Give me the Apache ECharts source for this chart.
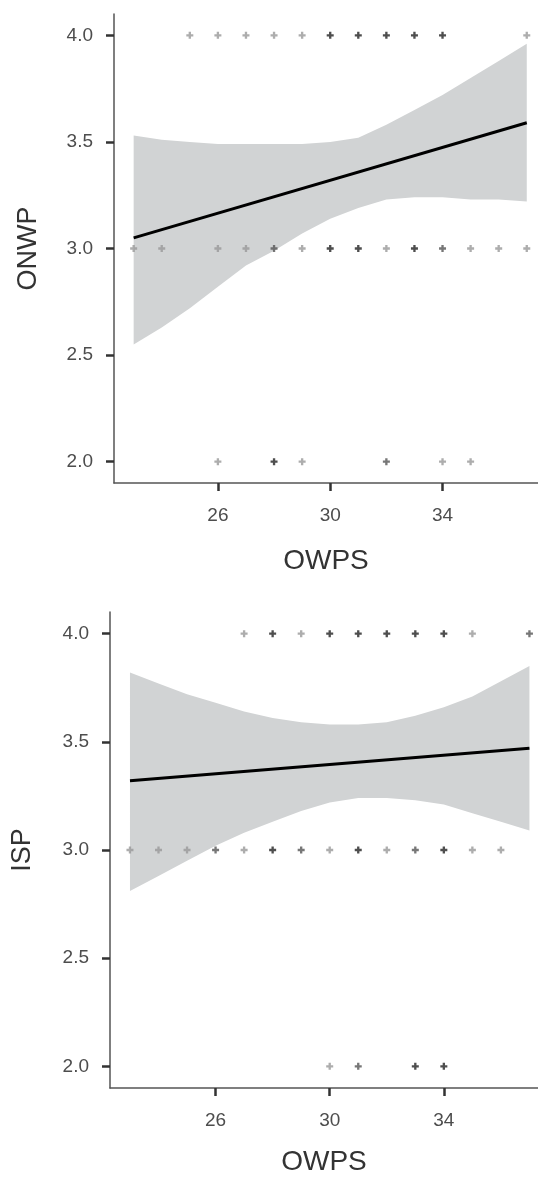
<!DOCTYPE html>
<html>
<head>
<meta charset="utf-8">
<script src="https://cdn.jsdelivr.net/npm/echarts@6/dist/echarts.min.js"></script>
<style>
  html, body { margin: 0; padding: 0; background: #fff; }
  #chart { width: 538px; height: 1179px; }
</style>
</head>
<body>
<div id="chart"></div>
<script>
// x grid for the smoother band
var bandX = [23, 24, 25, 26, 27, 28, 29, 30, 31, 32, 33, 34, 35, 36, 37];

// ONWP panel: [OWPS, ONWP, overlap count]
var onwpPoints = [
  [25, 4, 1], [26, 4, 1], [27, 4, 1], [28, 4, 1], [29, 4, 1], [30, 4, 3], [31, 4, 3],
  [32, 4, 3], [33, 4, 3], [34, 4, 3], [37, 4, 1],
  [23, 3, 1], [24, 3, 1], [26, 3, 1], [27, 3, 1], [28, 3, 2], [29, 3, 1], [30, 3, 3],
  [31, 3, 3], [32, 3, 1], [33, 3, 3], [34, 3, 2], [35, 3, 1], [36, 3, 1], [37, 3, 1],
  [26, 2, 1], [28, 2, 3], [29, 2, 1], [32, 2, 2], [34, 2, 1], [35, 2, 1]
];
var onwpFit = [[23, 3.05], [37, 3.59]];
var onwpLower = [2.55, 2.63, 2.72, 2.82, 2.92, 2.99, 3.07, 3.14, 3.19, 3.23, 3.24, 3.24, 3.23, 3.23, 3.22];
var onwpUpper = [3.53, 3.51, 3.50, 3.49, 3.49, 3.49, 3.49, 3.50, 3.52, 3.58, 3.65, 3.72, 3.80, 3.88, 3.96];

// ISP panel
var ispPoints = [
  [27, 4, 1], [28, 4, 3], [29, 4, 1], [30, 4, 3], [31, 4, 3], [32, 4, 3], [33, 4, 3],
  [34, 4, 3], [35, 4, 1], [37, 4, 2],
  [23, 3, 1], [24, 3, 1], [25, 3, 1], [26, 3, 2], [27, 3, 1], [28, 3, 3], [29, 3, 2],
  [30, 3, 1], [31, 3, 3], [32, 3, 1], [33, 3, 2], [34, 3, 3], [35, 3, 1], [36, 3, 1],
  [30, 2, 1], [31, 2, 2], [33, 2, 3], [34, 2, 3]
];
var ispFit = [[23, 3.32], [37, 3.47]];
var ispLower = [2.81, 2.88, 2.95, 3.02, 3.08, 3.13, 3.18, 3.22, 3.24, 3.24, 3.23, 3.21, 3.17, 3.13, 3.09];
var ispUpper = [3.82, 3.77, 3.72, 3.68, 3.64, 3.61, 3.59, 3.58, 3.58, 3.59, 3.62, 3.66, 3.71, 3.78, 3.85];

var xTicks = [26, 30, 34];
var yTicks = [2.0, 2.5, 3.0, 3.5, 4.0];
var xName = 'OWPS';
var yNames = ['ONWP', 'ISP'];

var plusPath = 'path://M2,0H4V2H6V4H4V6H2V4H0V2H2Z';
var shade = { 1: '#999999', 2: '#555555', 3: '#222222' };

function makeX(idx, min, max, gap) {
  return {
    type: 'value', gridIndex: idx, min: min, max: max,
    name: xName, nameLocation: 'middle', nameGap: gap,
    nameTextStyle: { color: '#333', fontSize: 28, fontFamily: 'Liberation Sans' },
    axisLine: { show: true, lineStyle: { color: '#555', width: 1.5 } },
    axisTick: { show: true, customValues: xTicks, length: 8, lineStyle: { color: '#333', width: 2.5 } },
    axisLabel: { customValues: xTicks, margin: 23, color: '#4d4d4d', fontSize: 19, fontFamily: 'Liberation Sans' },
    splitLine: { show: false }
  };
}
function makeY(idx, name, gap) {
  return {
    type: 'value', gridIndex: idx, min: 1.9, max: 4.1,
    name: name, nameLocation: 'middle', nameGap: gap, nameRotate: 90,
    nameTextStyle: { color: '#333', fontSize: 27, fontFamily: 'Liberation Sans' },
    axisLine: { show: true, lineStyle: { color: '#555', width: 1.5 } },
    axisTick: { show: true, customValues: yTicks, length: 8, lineStyle: { color: '#333', width: 2.5 } },
    axisLabel: { customValues: yTicks, margin: 21, color: '#4d4d4d', fontSize: 19, fontFamily: 'Liberation Sans',
      formatter: function (v) { return v.toFixed(1); } },
    splitLine: { show: false }
  };
}
function panelSeries(idx, pts, fit, lower, upper) {
  var bandData = bandX.map(function (x, i) { return [x, lower[i], upper[i]]; });
  return [
    { type: 'custom', xAxisIndex: idx, yAxisIndex: idx, data: bandData, silent: true, z: 1,
      encode: { x: 0, y: [1, 2] },
      renderItem: function (params, api) {
        if (params.dataIndex !== 0) return null;
        var top = [], bot = [];
        bandData.forEach(function (d) {
          top.push(api.coord([d[0], d[2]]));
          bot.unshift(api.coord([d[0], d[1]]));
        });
        return { type: 'polygon', shape: { points: top.concat(bot) }, style: { fill: '#d1d3d4' } };
      } },
    { type: 'scatter', xAxisIndex: idx, yAxisIndex: idx, symbol: plusPath, symbolSize: 7, z: 3,
      data: pts.map(function (p) { return { value: [p[0], p[1]], itemStyle: { color: shade[p[2]] } }; }) },
    { type: 'line', xAxisIndex: idx, yAxisIndex: idx, data: fit, symbol: 'none', z: 4,
      lineStyle: { color: '#000', width: 3 } }
  ];
}

var chart = echarts.init(document.getElementById('chart'));
var option = {
  animation: false,
  backgroundColor: '#fff',
  grid: [
    { left: 114, right: 0, top: 14, height: 469 },
    { left: 110, right: 0, top: 612, height: 476 }
  ],
  xAxis: [makeX(0, 22.3, 37.4, 64), makeX(1, 22.3, 37.3, 60)],
  yAxis: [makeY(0, yNames[0], 72), makeY(1, yNames[1], 74)],
  series: panelSeries(0, onwpPoints, onwpFit, onwpLower, onwpUpper)
    .concat(panelSeries(1, ispPoints, ispFit, ispLower, ispUpper))
};
chart.setOption(option);
</script>
</body>
</html>
